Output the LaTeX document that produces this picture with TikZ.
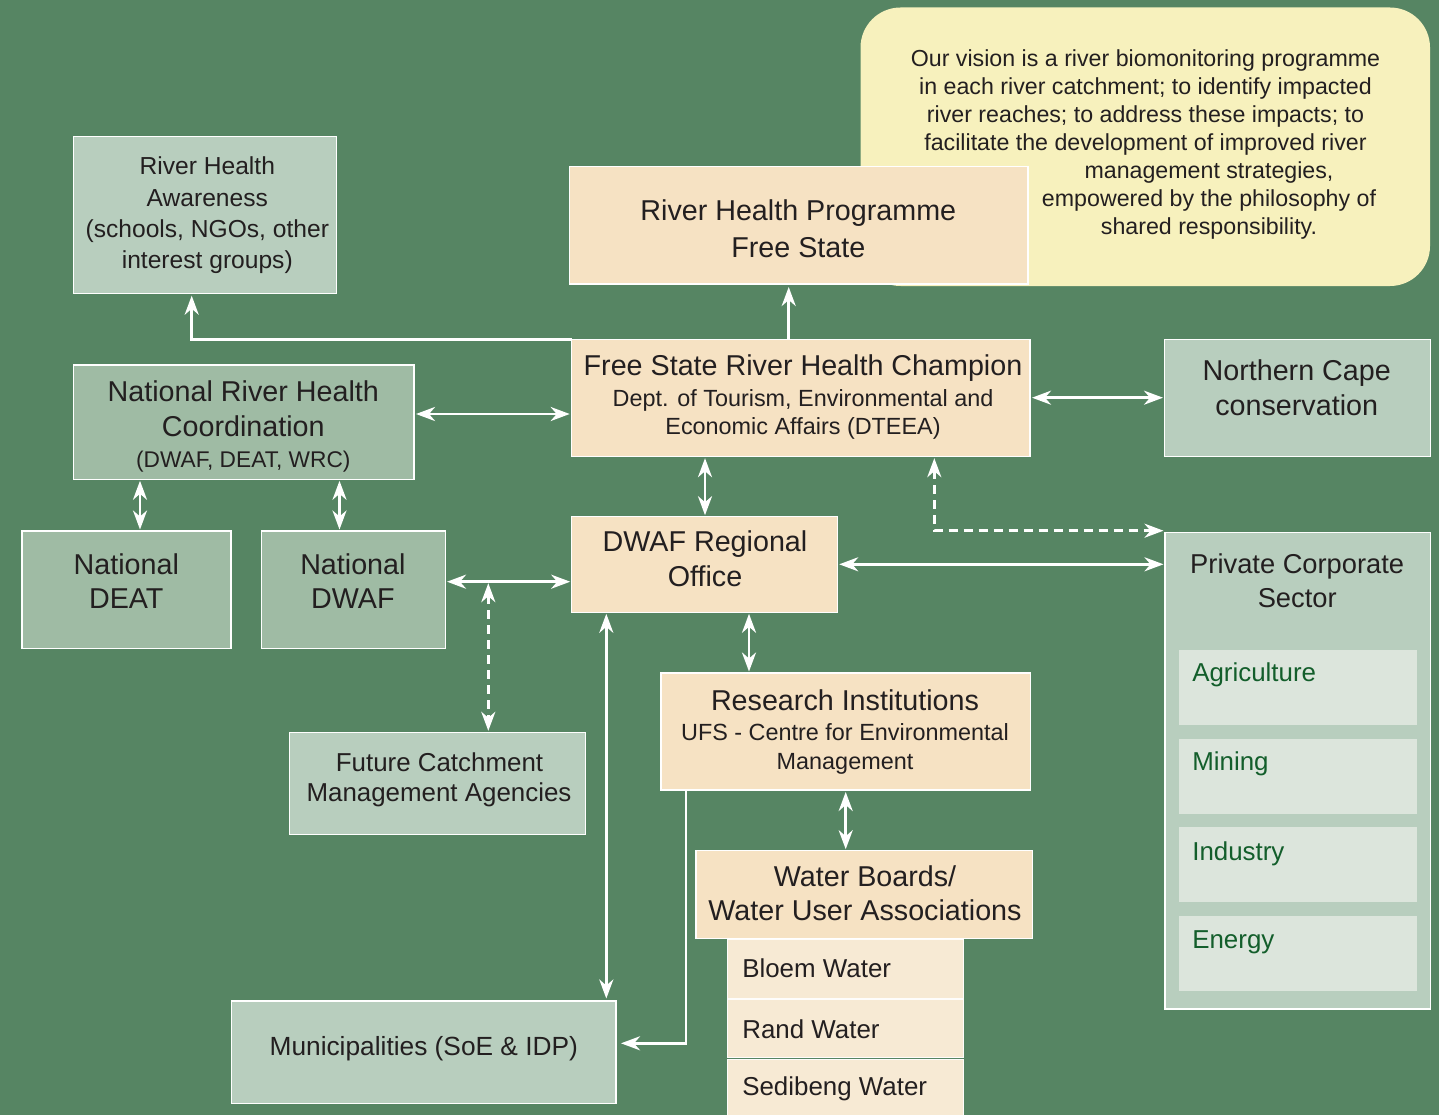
\documentclass[tikz,border=0pt]{standalone}
\usepackage{fontspec}
\setmainfont{Liberation Sans}
\usetikzlibrary{arrows.meta}
\definecolor{bg}{HTML}{568563}
\definecolor{lgreen}{HTML}{B8CEBE}
\definecolor{dgreen}{HTML}{9FBBA4}
\definecolor{beige}{HTML}{F6E2C3}
\definecolor{wbeige}{HTML}{F7EAD4}
\definecolor{visyel}{HTML}{F7F1BD}
\definecolor{secbox}{HTML}{DCE5DC}
\definecolor{sectxt}{HTML}{135E2B}
\definecolor{txt}{HTML}{231F20}
\begin{document}
\begin{tikzpicture}[x=1pt,y=-1pt,
  box/.style={rectangle,draw=white,line width=1.4pt,inner sep=0pt,outer sep=0pt},
  lbox/.style={box,fill=lgreen},
  dbox/.style={box,fill=dgreen},
  bbox/.style={box,fill=beige},
  wbox/.style={box,fill=wbeige,draw=white!90!wbeige,line width=1pt},
  sbox/.style={rectangle,fill=secbox,inner sep=0pt,outer sep=0pt},
  t/.style={anchor=base,inner sep=0pt,outer sep=0pt,text=txt},
  tl/.style={anchor=base west,inner sep=0pt,outer sep=0pt,text=txt},
  tip/.tip={Stealth[length=19pt,width=14pt,inset=6pt]},
  arr/.style={draw=white,line width=2.8pt,-tip},
  darr/.style={draw=white,line width=2.8pt,tip-tip},
  dsh/.style={dash pattern=on 9pt off 6pt}
]
\useasboundingbox (0,0) rectangle (1439,1115);
\fill[bg] (0,0) rectangle (1439,1115);

% vision
\node[rectangle,fill=visyel,rounded corners=40pt,inner sep=0pt,minimum width=569.5pt,minimum height=278.5pt] (vis) at (1145.25,146.75) {};
\begin{scope}[every node/.style={font=\fontsize{23.2}{28}\selectfont}]
\node[t] (v1) at (1145.5,66.7) {Our vision is a river biomonitoring programme};
\node[t] (v2) at (1145.5,94.7) {in each river catchment; to identify impacted};
\node[t] (v3) at (1145.5,122.7) {river reaches; to address these impacts; to};
\node[t] (v4) at (1145.5,150.7) {facilitate the development of improved river};
\node[t] (v5) at (1209,178.7) {management strategies,};
\node[t] (v6) at (1209,206.7) {empowered by the philosophy of};
\node[t] (v7) at (1209,234.7) {shared responsibility.};
\end{scope}

% boxes
\node[bbox,minimum width=458.5pt,minimum height=117.3pt] (rhp) at (798.75,225.35) {};
\node[lbox,minimum width=262.6pt,minimum height=157pt] (aw) at (205,215.2) {};
\node[dbox,minimum width=340.3pt,minimum height=114.3pt] (nrhc) at (243.85,422.15) {};
\node[bbox,minimum width=458.3pt,minimum height=117.4pt] (champ) at (800.85,398) {};
\node[lbox,minimum width=265.8pt,minimum height=117.2pt] (nc) at (1297.4,397.9) {};
\node[dbox,minimum width=209pt,minimum height=117.7pt] (deat) at (126.3,589.85) {};
\node[dbox,minimum width=184.1pt,minimum height=117.7pt] (ndwaf) at (353.45,589.85) {};
\node[bbox,minimum width=266pt,minimum height=95.6pt] (reg) at (704.7,564.5) {};
\node[lbox,minimum width=265.5pt,minimum height=476.5pt] (priv) at (1297.75,770.75) {};
\node[sbox,minimum width=238pt,minimum height=74.7pt] (agri) at (1298,687.35) {};
\node[sbox,minimum width=238pt,minimum height=74.7pt] (mine) at (1298,776.35) {};
\node[sbox,minimum width=238pt,minimum height=74.7pt] (ind) at (1298,864.35) {};
\node[sbox,minimum width=238pt,minimum height=74.7pt] (ener) at (1298,953.35) {};
\node[bbox,minimum width=369.7pt,minimum height=117pt] (res) at (845.85,731.5) {};
\node[lbox,minimum width=296pt,minimum height=102pt] (fut) at (437.3,783.3) {};
\node[bbox,minimum width=336.7pt,minimum height=88pt] (wb) at (864.35,894.7) {};
\node[wbox,minimum width=236pt,minimum height=59pt] (bloem) at (845.3,969) {};
\node[wbox,minimum width=236pt,minimum height=58pt] (rand) at (845.3,1028.5) {};
\node[wbox,minimum width=236pt,minimum height=66pt] (sed) at (845.3,1092) {};
\node[lbox,minimum width=384.3pt,minimum height=102.3pt] (mun) at (423.85,1052.15) {};

% texts
\begin{scope}[every node/.style={font=\fontsize{28.7}{34}\selectfont}]
\node[t] (rhp1) at (798.3,220.7) {River Health Programme};
\node[t] (rhp2) at (798.3,257.3) {Free State};
\node[t] (nrhc1) at (243.3,401.7) {National River Health};
\node[t] (nrhc2) at (243.3,436) {Coordination};
\node[t] (champ1) at (803,375) {Free State River Health Champion};
\node[t] (nc1) at (1296.7,380.7) {Northern Cape};
\node[t] (nc2) at (1296.7,415) {conservation};
\node[t] (deat1) at (126.3,574) {National};
\node[t] (deat2) at (126.3,608.3) {DEAT};
\node[t] (ndwaf1) at (352.9,574) {National};
\node[t] (ndwaf2) at (352.9,608.3) {DWAF};
\node[t] (reg1) at (705,551) {DWAF Regional};
\node[t] (reg2) at (705,586) {Office};
\node[t] (res1) at (845,710) {Research Institutions};
\node[t] (wb1) at (865,886) {Water Boards/};
\node[t] (wb2) at (865,920) {Water User Associations};
\end{scope}
\begin{scope}[every node/.style={font=\fontsize{27.3}{33}\selectfont}]
\node[t] (priv1) at (1297.2,573.3) {Private Corporate};
\node[t] (priv2) at (1297.2,607.3) {Sector};
\end{scope}
\begin{scope}[every node/.style={font=\fontsize{24.6}{31}\selectfont}]
\node[t] (aw1) at (207.3,175) {River Health};
\node[t] (aw2) at (207.3,206.5) {Awareness};
\node[t] (aw3) at (207.3,237.5) {(schools, NGOs, other};
\node[t] (aw4) at (207.3,268.5) {interest groups)};
\end{scope}
\begin{scope}[every node/.style={font=\fontsize{23.4}{28}\selectfont}]
\node[t] (nrhc3) at (243.3,467) {\fontsize{22.7}{27}\selectfont(DWAF, DEAT, WRC)};
\node[t] (champ2) at (803,406.7) {Dept. of Tourism, Environmental and};
\node[t] (champ3) at (803,434.3) {Economic Affairs (DTEEA)};
\node[t] (res2) at (845,740.5) {UFS - Centre for Environmental};
\node[t] (res3) at (845,769.5) {Management};
\end{scope}
\begin{scope}[every node/.style={font=\fontsize{25.9}{31}\selectfont}]
\node[t] (fut1) at (439.5,771.7) {Future Catchment};
\node[t] (fut2) at (439,801.7) {Management Agencies};
\node[t] (mun1) at (423.8,1055.7) {\fontsize{26.3}{31}\selectfont Municipalities (SoE \& IDP)};
\node[tl] (bloem1) at (742.3,977.3) {Bloem Water};
\node[tl] (rand1) at (742.3,1038.3) {Rand Water};
\node[tl] (sed1) at (742.3,1095) {Sedibeng Water};
\node[tl,text=sectxt] (agri1) at (1192.3,681.7) {Agriculture};
\node[tl,text=sectxt] (mine1) at (1192.3,770.7) {Mining};
\node[tl,text=sectxt] (ind1) at (1192.3,860) {Industry};
\node[tl,text=sectxt] (ener1) at (1192.3,948.3) {Energy};
\end{scope}

% connectors
\draw[arr,shorten >=3pt] (champ.north -| 788.7,0) -- (rhp.south -| 788.7,0);
\draw[arr,shorten >=2pt] (champ.north west) -- (champ.north west -| 191.7,0) -- (aw.south -| 191.7,0);
\draw[darr,shorten >=2pt,shorten <=2pt] (nrhc.east |- 0,414) -- (champ.west |- 0,414);
\draw[darr,shorten >=1.5pt,shorten <=2pt] (champ.east |- 0,397.7) -- (nc.west |- 0,397.7);
\draw[darr,shorten >=1.5pt,shorten <=1.5pt] (champ.south -| 705,0) -- (reg.north -| 705,0);
\coordinate (dc) at (934.3,530.7);
\draw[darr,dsh,shorten >=1.5pt,shorten <=1.5pt] (champ.south -| dc) -- (dc) -- (priv.west |- dc);
\draw[darr,shorten >=1.5pt,shorten <=1.5pt] (reg.east |- 0,564.3) -- (priv.west |- 0,564.3);
\draw[darr,shorten >=1.5pt,shorten <=1.5pt] (nrhc.south -| 140,0) -- (deat.north -| 140,0);
\draw[darr,shorten >=1.5pt,shorten <=1.5pt] (nrhc.south -| 339.5,0) -- (ndwaf.north -| 339.5,0);
\draw[darr,shorten >=1.5pt,shorten <=1.5pt] (ndwaf.east |- 0,581.7) -- (reg.west |- 0,581.7);
\coordinate (dt) at (488.3,581.7);
\draw[darr,dsh,shorten >=1.5pt,shorten <=1.5pt] (dt) -- (fut.north -| dt);
\draw[darr,shorten >=2.5pt,shorten <=1.5pt] (reg.south -| 606.3,0) -- (mun.north -| 606.3,0);
\draw[darr,shorten >=1.5pt,shorten <=1.5pt] (reg.south -| 749,0) -- (res.north -| 749,0);
\coordinate (rm) at (686,1043.3);
\draw[arr,shorten >=5pt] (res.south -| rm) -- (rm) -- (mun.east |- rm);
\draw[darr,shorten >=1.5pt,shorten <=2pt] (res.south -| 845.7,0) -- (wb.north -| 845.7,0);
\end{tikzpicture}
\end{document}
